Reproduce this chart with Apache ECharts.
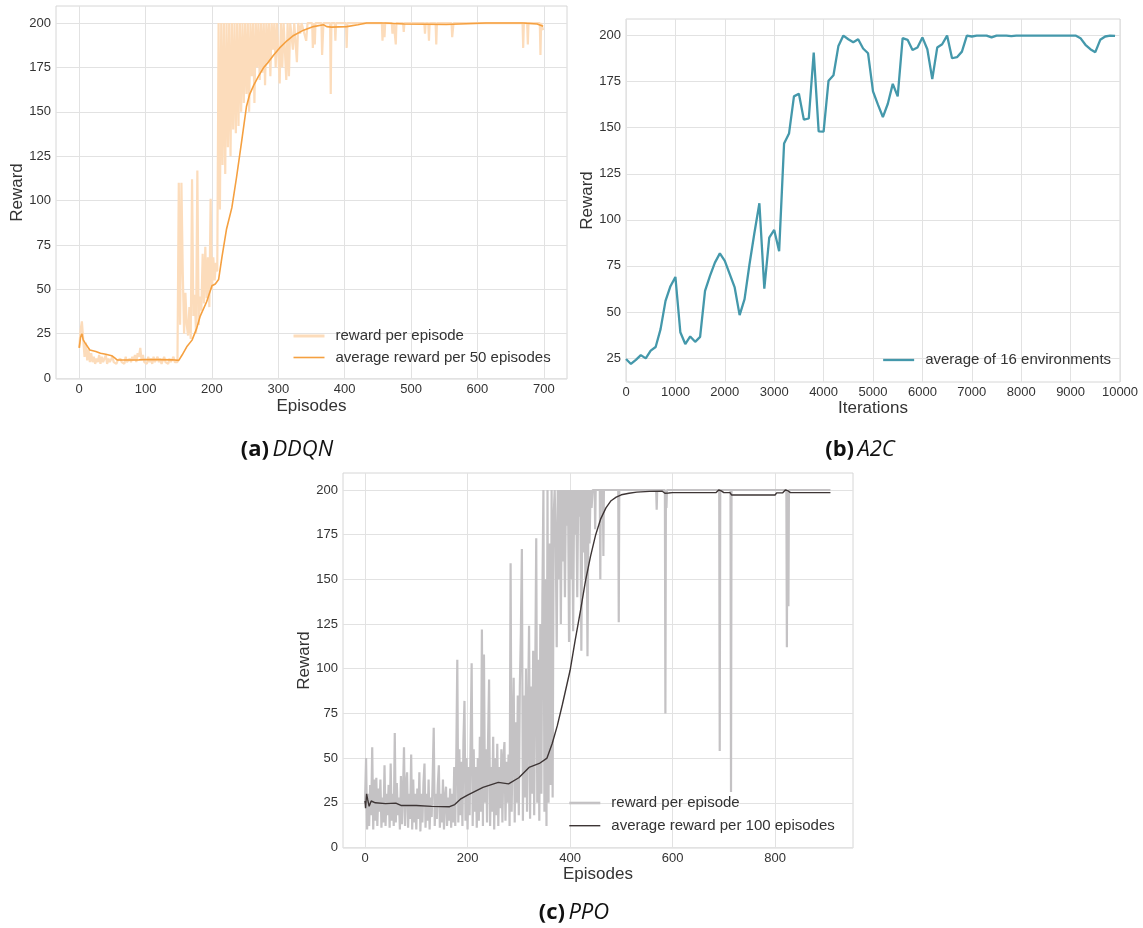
<!DOCTYPE html>
<html>
<head>
<meta charset="utf-8">
<title>DDQN / A2C / PPO reward curves</title>
<script src="https://cdn.jsdelivr.net/npm/echarts@6/dist/echarts.min.js"></script>
<style>
  html, body { margin: 0; padding: 0; background: #fff; }
  #chart { width: 1143px; height: 928px; }
</style>
</head>
<body>
<div id="chart"></div>
<script>
// ---- (a) DDQN ----
// reward per episode, episodes 0..298 every 2 episodes
const ddqnRawStep = 2
const ddqnRawDense = [
  17, 27, 32, 22, 12, 20, 10, 16, 9, 14,
  9, 12, 8, 11, 9, 13, 8, 12, 9, 10,
  13, 8, 11, 9, 10, 12, 9, 10, 8, 10,
  9, 11, 9, 10, 8, 12, 9, 10, 11, 9,
  12, 10, 13, 9, 14, 12, 17, 10, 13, 9,
  10, 8, 12, 9, 11, 8, 12, 9, 10, 12,
  9, 11, 8, 10, 12, 9, 10, 8, 11, 9,
  10, 12, 9, 10, 9,
  110, 30, 110, 60, 25, 48, 30, 24, 40, 22,
  112, 35, 47, 25, 117, 30, 46, 38, 70, 42,
  74, 45, 68, 40, 101, 50, 68, 55, 65, 60,
  200, 95, 200, 120, 200, 115, 200, 130, 200, 125,
  200, 140, 200, 138, 200, 142, 200, 150, 200, 155,
  200, 160, 200, 150, 200, 170, 200, 155, 200, 175,
  200, 168, 200, 172, 200, 165, 200, 178, 200, 170,
  200, 185, 200, 175, 200
]
// reward per episode after episode 300: [episode, reward]
const ddqnRawLate = [
  [300, 200], [302, 166], [304, 200], [306, 175], [308, 200], [312, 168], [314, 200],
  [316, 170], [318, 200], [322, 185], [324, 200], [328, 178], [330, 200], [333, 194],
  [335, 200], [342, 190], [344, 200], [351, 200], [352, 186], [354, 200], [355, 188],
  [356, 200], [365, 200], [366, 182], [368, 200], [378, 200], [379, 160], [380, 200],
  [385, 200], [386, 190], [387, 200], [402, 200], [403, 186], [404, 200], [456, 200],
  [457, 190], [458, 200], [460, 192], [461, 200], [471, 200], [472, 194], [474, 200],
  [477, 188], [478, 200], [488, 200], [489, 195], [490, 200], [520, 200], [521, 194],
  [522, 200], [526, 200], [527, 190], [528, 200], [537, 200], [538, 188], [539, 200],
  [561, 200], [562, 192], [564, 200], [668, 200], [669, 186], [670, 200], [675, 200],
  [676, 188], [677, 200], [694, 200], [695, 182], [696, 200], [699, 196]
]
// average reward per 50 episodes: [episode, reward]
const ddqnAvg = [
  [0, 17], [2, 23], [4, 25], [6, 21.5], [9, 19.7], [16, 15.8], [25, 15], [32, 14],
  [40, 13.4], [49, 12.6], [53, 11.5], [57, 10.3], [70, 10.2], [90, 10.3], [100, 10.5],
  [120, 10.4], [140, 10.3], [150, 10], [155, 13], [162, 17.6], [170, 21.4], [177, 28],
  [182, 34.6], [192, 43], [200, 52], [205, 53], [210, 55.5], [215, 68], [222, 84],
  [230, 96], [237, 113], [245, 134], [252, 153], [257, 160], [263, 165], [270, 170],
  [278, 175], [285, 178], [293, 182], [302, 186], [313, 190], [323, 193], [338, 196],
  [353, 198], [368, 199], [373, 198], [380, 197.7], [403, 198], [420, 199], [433, 200],
  [460, 200], [490, 199.5], [553, 199.2], [613, 200], [669, 200], [690, 199.5], [699, 198.2]
]

// ---- (b) A2C ----
const a2cStep = 100
const a2cReward = [
  24.5, 21.8, 24, 26.6, 24.8, 29, 31, 40.7, 56, 64,
  69, 39, 32.6, 36.7, 33.8, 36.5, 61.4, 69.6, 76.8, 81.8,
  77.7, 70.5, 63.3, 48.3, 57, 75.9, 93, 109, 62.7, 90.3,
  94.5, 83, 141.4, 146.8, 167, 168.4, 154.4, 155, 190.8, 148,
  147.9, 175.5, 178.5, 194.4, 200, 198, 196.4, 198, 193, 190.4,
  169.7, 162.5, 155.8, 163, 173.8, 167, 198.6, 197.7, 192.2, 193.5,
  199, 192.6, 176.4, 193.5, 195.3, 200, 187.7, 188.3, 191.3, 200,
  199.5, 200, 200, 200, 199, 200, 200, 200, 199.7, 200,
  200, 200, 200, 200, 200, 200, 200, 200, 200, 200,
  200, 200, 198.6, 195, 192.6, 191, 197.7, 199.5, 200, 199.8
]

// ---- (c) PPO ----
// reward per episode, episodes 0..368 every 2 episodes
const ppoRawStep = 2
const ppoRawDense = [
  25, 50, 10, 30, 12, 35, 18, 56, 10, 38,
  15, 39, 12, 33, 20, 38, 11, 28, 14, 46,
  12, 30, 18, 35, 11, 47, 15, 30, 12, 64,
  14, 36, 18, 28, 10, 40, 13, 30, 56, 12,
  35, 42, 11, 30, 16, 52, 10, 38, 14, 30,
  10, 33, 16, 42, 9, 30, 14, 36, 47, 11,
  30, 15, 38, 10, 28, 17, 40, 67, 12, 30,
  16, 35, 46, 11, 30, 14, 38, 10, 28, 34,
  12, 28, 15, 33, 11, 30, 14, 45, 12, 50,
  105, 14, 55, 18, 48, 12, 60, 82, 15, 50,
  10, 45, 18, 60, 103, 12, 55, 20, 45, 11,
  50, 15, 62, 20, 122, 12, 108, 25, 55, 14,
  60, 94, 12, 45, 20, 62, 10, 50, 18, 58,
  12, 45, 22, 55, 14, 50, 59, 15, 48, 25,
  52, 12, 159, 20, 60, 95, 14, 70, 25, 85,
  18, 90, 120, 167, 15, 85, 28, 100, 20, 75,
  124, 16, 90, 30, 110, 18, 95, 173, 25, 105,
  15, 125, 30, 140, 200, 20, 150, 12, 200, 25,
  170, 35, 200, 28, 185
]
// reward per episode after episode 370: [episode, reward]
const ppoRawLate = [
  [370, 200], [372, 172], [374, 112], [376, 200], [378, 150], [380, 200], [382, 125],
  [384, 200], [386, 160], [388, 200], [390, 140], [392, 200], [394, 180], [396, 200],
  [398, 115], [400, 200], [402, 150], [404, 200], [406, 121], [408, 200], [410, 175],
  [412, 200], [414, 140], [416, 200], [418, 185], [420, 200], [422, 110], [424, 200],
  [426, 165], [428, 200], [430, 150], [432, 200], [434, 107], [436, 200], [438, 170],
  [440, 200], [442, 190], [444, 200], [448, 200], [449, 178], [450, 200], [458, 200],
  [459, 150], [460, 200], [464, 200], [465, 163], [466, 200], [494, 200], [495, 126],
  [496, 200], [568, 200], [569, 189], [570, 200], [585, 200], [586, 75], [587, 200],
  [588, 190], [589, 200], [691, 200], [692, 54], [693, 200], [713, 200], [714, 31],
  [715, 200], [822, 200], [823, 112], [824, 200], [826, 135], [827, 200], [908, 200]
]
// average reward per 100 episodes: [episode, reward]
const ppoAvg = [
  [0, 26], [1, 22], [3, 30], [5, 27], [8, 23], [12, 26], [20, 25], [40, 24.5],
  [60, 24.8], [70, 23.5], [100, 23.5], [130, 23], [165, 22.8], [175, 24], [186, 27],
  [200, 29.3], [230, 33.6], [260, 36.4], [280, 35.6], [300, 39], [320, 44.8], [340, 47],
  [355, 50], [365, 58], [375, 68], [385, 80], [400, 99], [410, 116], [420, 132],
  [430, 149], [440, 163], [450, 175], [460, 184], [470, 190], [480, 194], [490, 196],
  [500, 197.3], [515, 198.2], [530, 198.8], [555, 199.2], [580, 199.3], [585, 198.2],
  [592, 198.3], [600, 198.5], [685, 198.6], [690, 200], [695, 199.5], [700, 198.5],
  [712, 198.5], [715, 197.2], [800, 197.2], [803, 198.4], [815, 198.4], [820, 200],
  [825, 199.6], [830, 198.5], [908, 198.5]
]

// tick labels
const rewardTicks = [0, 25, 50, 75, 100, 125, 150, 175, 200]
const a2cRewardTicks = [25, 50, 75, 100, 125, 150, 175, 200]
const ddqnEpisodeTicks = [0, 100, 200, 300, 400, 500, 600, 700]
const a2cIterTicks = [0, 1000, 2000, 3000, 4000, 5000, 6000, 7000, 8000, 9000, 10000]
const ppoEpisodeTicks = [0, 200, 400, 600, 800]

const legendText = {
    ddqn_raw: 'reward per episode',
    ddqn_avg: 'average reward per 50 episodes',
    a2c: 'average of 16 environments',
    ppo_raw: 'reward per episode',
    ppo_avg: 'average reward per 100 episodes',
}

const FONT = '"Liberation Sans", Arial, sans-serif'
const TXT = '#333333'

function xAxisOf(grid, min, max, ticks, name, gap) {
    return {
        type: 'value',
        gridIndex: grid,
        min: min,
        max: max,
        name: name,
        nameLocation: 'middle',
        nameGap: gap,
        nameTextStyle: { fontSize: 17, color: TXT, fontFamily: FONT },
        axisLine: { show: false },
        axisTick: { show: false, customValues: ticks },
        axisLabel: {
            customValues: ticks, color: TXT, fontSize: 13, margin: 4, fontFamily: FONT,
            formatter: (v) => String(v),
        },
        splitLine: { show: true, lineStyle: { color: '#e2e2e2', width: 1 } },
    }
}
function yAxisOf(grid, min, max, ticks, gap) {
    return {
        type: 'value',
        gridIndex: grid,
        min: min,
        max: max,
        name: 'Reward',
        nameLocation: 'middle',
        nameGap: gap,
        nameTextStyle: { fontSize: 17, color: TXT, fontFamily: FONT },
        axisLine: { show: false },
        axisTick: { show: false, customValues: ticks },
        axisLabel: {
            customValues: ticks, color: TXT, fontSize: 13, margin: 5, fontFamily: FONT,
            formatter: (v) => String(v),
        },
        splitLine: { show: true, lineStyle: { color: '#e2e2e2', width: 1 } },
    }
}
// legend entries: [series name, sample line width]
function legendOf(items, left, top, gap) {
    return {
        data: items.map(([n, w]) => ({ name: n, lineStyle: { width: w } })),
        orient: 'vertical',
        left: left,
        top: top,
        padding: 0,
        itemGap: gap,
        itemWidth: 31,
        itemHeight: 12,
        selectedMode: false,
        itemStyle: { opacity: 0 },
        formatter: (n) => legendText[n],
        textStyle: { fontSize: 15, color: TXT, fontFamily: FONT, lineHeight: 18, padding: [0, 0, 0, 6] },
    }
}
function caption(x, y, tag, algo) {
    return {
        type: 'text',
        x: x,
        y: y,
        style: {
            text: '{b|' + tag + '} {i|' + algo + '}',
            align: 'center',
            verticalAlign: 'middle',
            rich: {
                b: { fontSize: 22, fontWeight: 'bold', fontFamily: '"Open Sans", sans-serif', fill: '#111' },
                i: { fontSize: 22, fontStyle: 'italic', fontFamily: '"Open Sans", sans-serif', fill: '#111' },
            },
        },
    }
}

const ddqnRawData = ddqnRawDense.map((v, i) => [i * ddqnRawStep, v]).concat(ddqnRawLate)
const a2cData = a2cReward.map((v, i) => [i * a2cStep, v])
const ppoRawData = ppoRawDense.map((v, i) => [i * ppoRawStep, v]).concat(ppoRawLate)

const option = {
    animation: false,
    backgroundColor: '#ffffff',
    grid: [
        { left: 56, top: 6, width: 511, height: 373, show: true, borderColor: '#d6d6d6', borderWidth: 1 },
        { left: 626, top: 19, width: 494, height: 363, show: true, borderColor: '#d6d6d6', borderWidth: 1 },
        { left: 343, top: 473, width: 510, height: 375, show: true, borderColor: '#d6d6d6', borderWidth: 1 },
    ],
    xAxis: [
        xAxisOf(0, -35, 735, ddqnEpisodeTicks, 'Episodes', 19),
        xAxisOf(1, 0, 10000, a2cIterTicks, 'Iterations', 17),
        xAxisOf(2, -43, 952, ppoEpisodeTicks, 'Episodes', 18),
    ],
    yAxis: [
        yAxisOf(0, -0.5, 209.6, rewardTicks, 30),
        yAxisOf(1, 12, 209, a2cRewardTicks, 27),
        yAxisOf(2, -0.3, 209.5, rewardTicks, 30),
    ],
    legend: [
        legendOf([['ddqn_raw', 3], ['ddqn_avg', 1.6]], 292, 327, 3.5),
        legendOf([['a2c', 2.3]], 882, 351, 4),
        legendOf([['ppo_raw', 2.6], ['ppo_avg', 1.4]], 568, 794, 4.7),
    ],
    series: [
        {
            name: 'ddqn_raw', type: 'line', xAxisIndex: 0, yAxisIndex: 0, data: ddqnRawData,
            symbol: 'none', silent: true, z: 2,
            lineStyle: { color: '#fcdcbb', width: 2.2 }, itemStyle: { color: '#fcdcbb' },
        },
        {
            name: 'ddqn_avg', type: 'line', xAxisIndex: 0, yAxisIndex: 0, data: ddqnAvg,
            symbol: 'none', silent: true, z: 3,
            lineStyle: { color: '#f5a040', width: 1.6 }, itemStyle: { color: '#f5a040' },
        },
        {
            name: 'a2c', type: 'line', xAxisIndex: 1, yAxisIndex: 1, data: a2cData,
            symbol: 'none', silent: true, z: 3,
            lineStyle: { color: '#4498ab', width: 2.3 }, itemStyle: { color: '#4498ab' },
        },
        {
            name: 'ppo_raw', type: 'line', xAxisIndex: 2, yAxisIndex: 2, data: ppoRawData,
            symbol: 'none', silent: true, z: 2,
            lineStyle: { color: '#c4c2c4', width: 2.2 }, itemStyle: { color: '#c4c2c4' },
        },
        {
            name: 'ppo_avg', type: 'line', xAxisIndex: 2, yAxisIndex: 2, data: ppoAvg,
            symbol: 'none', silent: true, z: 3,
            lineStyle: { color: '#3d3535', width: 1.4 }, itemStyle: { color: '#3d3535' },
        },
    ],
    graphic: [
        caption(287, 450, '(a)', 'DDQN'),
        caption(860, 450, '(b)', 'A2C'),
        caption(574, 913, '(c)', 'PPO'),
    ],
}

const myChart = echarts.init(document.getElementById('chart'))
myChart.setOption(option)
</script>
</body>
</html>
